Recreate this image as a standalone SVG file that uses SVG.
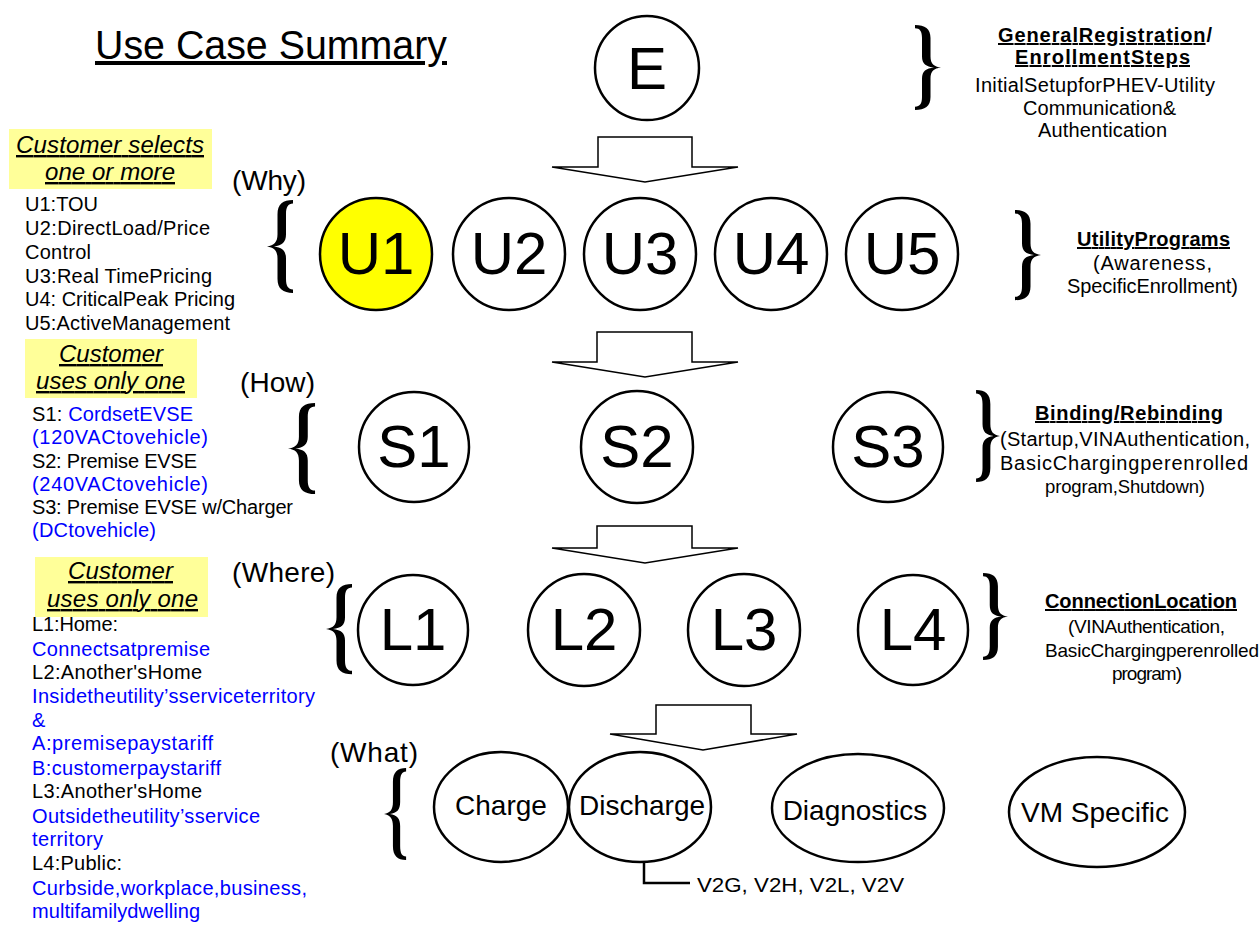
<svg xmlns="http://www.w3.org/2000/svg" xmlns:xlink="http://www.w3.org/1999/xlink" width="1260" height="926" viewBox="0 0 1260 926">
<style>
text { font-family: "Liberation Sans", Arial, Helvetica, sans-serif; fill: #000; }
.node { fill: #fff; stroke: #000; stroke-width: 2.5; }
.hl { fill: #ffff00; }
.big { font-size: 60px; text-anchor: middle; }
.t { font-size: 20px; }
.t19 { font-size: 19px; }
.blue { fill: #0000ff; }
.bold { font-weight: bold; }
.ul { text-decoration: underline; }
.yel { fill: #ffff99; stroke: none; }
.ital { font-style: italic; font-size: 24px; text-decoration: underline; }
.q { font-size: 28px; }
.ell { font-size: 28px; text-anchor: middle; }
.arrow { fill: #fff; stroke: #000; stroke-width: 1.5; stroke-linejoin: miter; }
.line { fill: none; stroke: #000; stroke-width: 2.5; }
.brace { fill: #000; }
</style>
<defs>
<path id="brace" d="M26,0 C16,0 10.5,4 10.5,14 L10.5,34 C10.5,42 7,45 0,46 C7,47 10.5,50 10.5,58 L10.5,78 C10.5,88 16,92 26,92 L26,88.5 C21,88.5 19,85 19,78 L19,58 C19,50 15,47 7,46 C15,45 19,42 19,34 L19,14 C19,7 21,3.5 26,3.5 Z"/>
</defs>
<rect x="0" y="0" width="1260" height="926" fill="#fff"/>

<g id="title">
<text x="95" y="59" font-size="40" class="ul" textLength="352" lengthAdjust="spacingAndGlyphs">Use Case Summary</text>
</g>

<g id="connectors">
<polygon class="arrow" points="598,137 692,137 692,167 738,167 645,182 552,167 598,167"/>
<polygon class="arrow" points="597,332 692,332 692,362 738,362 645,377 552,362 597,362"/>
<polygon class="arrow" points="597,526 692,526 692,548 738,548 645,563 552,548 597,548"/>
<polygon class="arrow" points="656,705 751,705 751,734 797,734 703,750 610,734 656,734"/>
<polyline class="line" points="644,863 644,883 690,883"/>
</g>

<g id="braces">
<use xlink:href="#brace" class="brace" transform="translate(267,200) scale(1,1.01)"/>
<use xlink:href="#brace" class="brace" transform="translate(288,403) scale(1.04,0.99)"/>
<use xlink:href="#brace" class="brace" transform="translate(326,584) scale(1,0.98)"/>
<use xlink:href="#brace" class="brace" transform="translate(384,768) scale(0.85,1)"/>
<use xlink:href="#brace" class="brace" transform="translate(941,25) scale(-1,0.924)"/>
<use xlink:href="#brace" class="brace" transform="translate(1041,210) scale(-1,0.98)"/>
<use xlink:href="#brace" class="brace" transform="translate(1000,390) scale(-0.92,1)"/>
<use xlink:href="#brace" class="brace" transform="translate(1008,573) scale(-0.96,0.946)"/>
</g>

<g id="node-E">
<circle class="node" cx="647" cy="68" r="52"/>
<text class="big" x="647" y="89">E</text>
</g>
<g id="node-U1">
<circle class="node hl" cx="376" cy="254" r="56"/>
<text class="big" x="376" y="274">U1</text>
</g>
<g id="node-U2">
<circle class="node" cx="509" cy="254" r="56"/>
<text class="big" x="509" y="274">U2</text>
</g>
<g id="node-U3">
<circle class="node" cx="640" cy="254" r="56"/>
<text class="big" x="640" y="274">U3</text>
</g>
<g id="node-U4">
<circle class="node" cx="771" cy="254" r="56"/>
<text class="big" x="771" y="274">U4</text>
</g>
<g id="node-U5">
<circle class="node" cx="902" cy="254" r="56"/>
<text class="big" x="902" y="274">U5</text>
</g>
<g id="node-S1">
<circle class="node" cx="414" cy="447" r="55"/>
<text class="big" x="414" y="467">S1</text>
</g>
<g id="node-S2">
<circle class="node" cx="637" cy="447" r="56"/>
<text class="big" x="637" y="467">S2</text>
</g>
<g id="node-S3">
<circle class="node" cx="888" cy="447" r="55"/>
<text class="big" x="888" y="467">S3</text>
</g>
<g id="node-L1">
<circle class="node" cx="413" cy="630" r="55"/>
<text class="big" x="413" y="650">L1</text>
</g>
<g id="node-L2">
<circle class="node" cx="584" cy="630" r="56"/>
<text class="big" x="584" y="650">L2</text>
</g>
<g id="node-L3">
<circle class="node" cx="744" cy="630" r="56"/>
<text class="big" x="744" y="650">L3</text>
</g>
<g id="node-L4">
<circle class="node" cx="913" cy="630" r="55"/>
<text class="big" x="913" y="650">L4</text>
</g>
<g id="node-charge">
<ellipse class="node" cx="501" cy="807" rx="67" ry="55"/>
<text class="ell" x="501" y="815">Charge</text>
</g>
<g id="node-discharge">
<ellipse class="node" cx="640" cy="807" rx="71" ry="55"/>
<text class="ell" x="642" y="815">Discharge</text>
</g>
<g id="node-diagnostics">
<ellipse class="node" cx="858" cy="808" rx="86" ry="54"/>
<text class="ell" x="855" y="820">Diagnostics</text>
</g>
<g id="node-vm">
<ellipse class="node" cx="1097" cy="812" rx="88" ry="55"/>
<text class="ell" x="1095" y="822">VM Specific</text>
</g>
<g id="v2x-label">
<text x="697" y="892" font-size="21" textLength="207" lengthAdjust="spacingAndGlyphs">V2G, V2H, V2L, V2V</text>
</g>

<g id="row-labels">
<text class="q" x="232" y="190" textLength="74">(Why)</text>
<text class="q" x="240" y="392" textLength="75">(How)</text>
<text class="q" x="232" y="582" textLength="103">(Where)</text>
<text class="q" x="330" y="762" textLength="88">(What)</text>
</g>

<g id="note-U">
<rect class="yel" x="9" y="129" width="203" height="60"/>
<text class="ital" x="16" y="153" textLength="188">Customer  selects</text>
<text class="ital" x="45" y="180" textLength="130">one or more</text>
<text class="t" x="25" y="211" textLength="73">U1:TOU</text>
<text class="t" x="25" y="235" textLength="185">U2:DirectLoad/Price</text>
<text class="t" x="25" y="259" textLength="66">Control</text>
<text class="t" x="25" y="283" textLength="187">U3:Real TimePricing</text>
<text class="t" x="25" y="306" textLength="210">U4: CriticalPeak Pricing</text>
<text class="t" x="25" y="330" textLength="205">U5:ActiveManagement</text>
</g>

<g id="note-S">
<rect class="yel" x="25" y="339" width="172" height="59"/>
<text class="ital" x="59" y="362" textLength="104">Customer</text>
<text class="ital" x="36" y="389" textLength="149">uses only one</text>
<text class="t" x="32" y="421" textLength="161">S1: <tspan class="blue">CordsetEVSE</tspan></text>
<text class="t blue" x="32" y="444" textLength="176">(120VACtovehicle)</text>
<text class="t" x="32" y="468" textLength="165">S2: Premise EVSE</text>
<text class="t blue" x="32" y="491" textLength="176">(240VACtovehicle)</text>
<text class="t" x="32" y="514" textLength="261">S3: Premise EVSE w/Charger</text>
<text class="t blue" x="32" y="537" textLength="124">(DCtovehicle)</text>
</g>

<g id="note-L">
<rect class="yel" x="35" y="557" width="173" height="60"/>
<text class="ital" x="68" y="579" textLength="105">Customer</text>
<text class="ital" x="47" y="607" textLength="151">uses only one</text>
<text class="t" x="32" y="631" textLength="86">L1:Home:</text>
<text class="t blue" x="32" y="656" textLength="178">Connectsatpremise</text>
<text class="t" x="32" y="679" textLength="170">L2:Another'sHome</text>
<text class="t blue" x="32" y="703" textLength="283">Insidetheutility’sserviceterritory</text>
<text class="t blue" x="32" y="727">&amp;</text>
<text class="t blue" x="32" y="750" textLength="181">A:premisepaystariff</text>
<text class="t blue" x="32" y="775" textLength="189">B:customerpaystariff</text>
<text class="t" x="32" y="798" textLength="170">L3:Another'sHome</text>
<text class="t blue" x="32" y="823" textLength="228">Outsidetheutility’sservice</text>
<text class="t blue" x="32" y="846" textLength="71">territory</text>
<text class="t" x="32" y="870" textLength="90">L4:Public:</text>
<text class="t blue" x="32" y="895" textLength="275">Curbside,workplace,business,</text>
<text class="t blue" x="32" y="918" textLength="168">multifamilydwelling</text>
</g>

<g id="desc-E">
<text class="t bold" x="998" y="42" textLength="214"><tspan class="ul">GeneralRegistration</tspan>/</text>
<text class="t bold ul" x="1015" y="64" textLength="175">EnrollmentSteps</text>
<text class="t" x="975" y="92" textLength="240">InitialSetupforPHEV-Utility</text>
<text class="t" x="1023" y="115" textLength="153">Communication&amp;</text>
<text class="t" x="1038" y="137" textLength="129">Authentication</text>
</g>

<g id="desc-U">
<text class="t bold ul" x="1077" y="246" textLength="153">UtilityPrograms</text>
<text class="t" x="1093" y="270" textLength="119">(Awareness,</text>
<text class="t" x="1067" y="293" textLength="171">SpecificEnrollment)</text>
</g>

<g id="desc-S">
<text class="t bold ul" x="1035" y="420" textLength="188">Binding/Rebinding</text>
<text class="t" x="1000" y="446" textLength="250">(Startup,VINAuthentication,</text>
<text class="t" x="1000" y="470" textLength="248">BasicChargingperenrolled</text>
<text x="1045" y="493" font-size="18.5" textLength="160">program,Shutdown)</text>
</g>

<g id="desc-L">
<text class="t bold ul" x="1045" y="608" textLength="192">ConnectionLocation</text>
<text class="t19" x="1068" y="633" textLength="157">(VINAuthentication,</text>
<text class="t19" x="1045" y="657" textLength="214">BasicChargingperenrolled</text>
<text class="t19" x="1112" y="680" textLength="70">program)</text>
</g>
</svg>
